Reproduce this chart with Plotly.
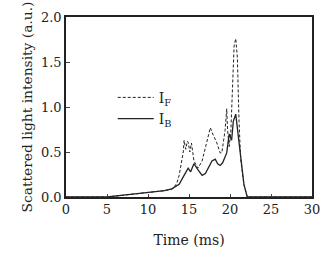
import plotly.graph_objects as go

# Time axis (ms) and intensities (a.u.)
t_F = [0, 5, 7, 9, 11, 12, 13, 13.5, 13.8, 14.1, 14.3, 14.4, 14.6, 14.8, 14.9, 15.1, 15.3,
       15.6, 16.1, 16.6, 17.2, 17.6, 17.9, 18.4, 18.8, 19.0, 19.4, 19.6, 19.7, 19.9, 20.1,
       20.3, 20.5, 20.7, 20.9, 21.1, 21.3, 21.7, 22.1, 30]
I_F = [0, 0, 0.02, 0.04, 0.06, 0.07, 0.09, 0.15, 0.24, 0.38, 0.5, 0.63, 0.53, 0.62, 0.61, 0.5, 0.6,
       0.4, 0.32, 0.40, 0.63, 0.77, 0.7, 0.6, 0.49, 0.49, 0.74, 0.98, 0.75, 0.56, 0.72,
       1.19, 1.68, 1.76, 1.55, 0.84, 0.42, 0.14, 0, 0]

t_B = [0, 5, 7, 9, 11, 12, 12.9, 13.8, 14.4, 14.9, 15.2, 15.6, 16.1, 16.6, 17.0, 17.4, 17.8,
       18.2, 18.5, 18.8, 19.1, 19.6, 19.9, 20.2, 20.4, 20.7, 20.9, 21.3, 21.7, 22.1, 30]
I_B = [0, 0, 0.02, 0.04, 0.06, 0.07, 0.09, 0.14, 0.24, 0.32, 0.28, 0.37, 0.3, 0.24, 0.26, 0.34, 0.40,
       0.42, 0.37, 0.35, 0.38, 0.49, 0.7, 0.63, 0.84, 0.92, 0.77, 0.42, 0.14, 0, 0]

x_ticks = [0, 5, 10, 15, 20, 25, 30]
y_ticks = [0.0, 0.5, 1.0, 1.5, 2.0]
y_ticklabels = ["0.0", "0.5", "1.0", "1.5", "2.0"]

ink = "#222222"
font_family = "DejaVu Serif"

fig = go.Figure()
fig.add_trace(go.Scatter(x=t_F, y=I_F, mode="lines", name="I<sub>F</sub>",
                         line=dict(color=ink, width=1, dash="3px,2px")))
fig.add_trace(go.Scatter(x=t_B, y=I_B, mode="lines", name="I<sub>B</sub>",
                         line=dict(color=ink, width=1.3)))

fig.update_layout(
    width=330, height=256,
    margin=dict(l=66, r=10, t=10, b=56),
    paper_bgcolor="white", plot_bgcolor="white",
    font=dict(family=font_family, size=13, color=ink),
    showlegend=True,
    legend=dict(x=0.19, y=0.64, xanchor="left", yanchor="top", itemwidth=36,
                bgcolor="rgba(0,0,0,0)", font=dict(size=14), tracegroupgap=0),
    xaxis=dict(range=[0, 30], tickvals=x_ticks, ticks="inside", ticklen=3,
               showline=True, mirror=True, linecolor=ink, linewidth=1.5,
               showgrid=False, zeroline=False, tickfont=dict(size=13),
               title=dict(text="Time (ms)", standoff=19, font=dict(size=14))),
    yaxis=dict(range=[0, 2.0], tickvals=y_ticks, ticktext=y_ticklabels, ticks="inside", ticklen=4,
               showline=True, mirror=True, linecolor=ink, linewidth=1.5,
               showgrid=False, zeroline=False, tickfont=dict(size=13),
               title=dict(text="Scattered light intensity (a.u.)", standoff=5, font=dict(size=13.8))),
)

fig.write_html("out.html")
